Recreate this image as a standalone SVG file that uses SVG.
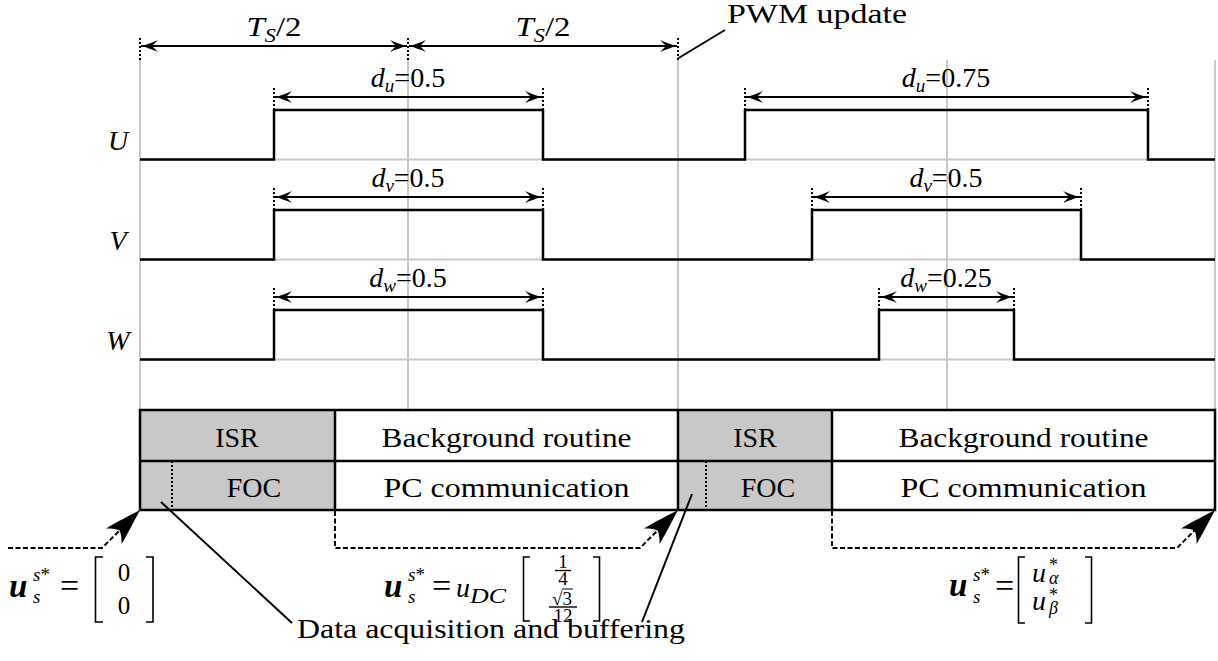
<svg xmlns="http://www.w3.org/2000/svg" width="1218" height="661" viewBox="0 0 1218 661" font-family="Liberation Serif, Times New Roman, DejaVu Serif, serif">
<defs>
<style>
text { font-family: "Liberation Serif", "Times New Roman", "DejaVu Serif", serif; fill: #000; }
.t { font-size: 28px; }
.it { font-style: italic; }
.sub { font-size: 19px; font-style: italic; }
.grid { stroke: #c8c8c8; stroke-width: 2; fill: none; }
.wave { stroke: #000; stroke-width: 2.5; fill: none; }
.dim { stroke: #000; stroke-width: 2; fill: none; marker-start: url(#ah); marker-end: url(#ah); }
.tick { stroke: #000; stroke-width: 2; stroke-dasharray: 2 2; fill: none; }
.frame { stroke: #000; stroke-width: 2.5; fill: none; }
.gray { fill: #c8c8c8; stroke: none; }
.dash { stroke: #000; stroke-width: 2; stroke-dasharray: 5 2.5; fill: none; }
.lead { stroke: #000; stroke-width: 2; fill: none; }
.brk { stroke: #000; stroke-width: 1.6; fill: none; }
.bu { font-size: 33px; font-weight: bold; font-style: italic; }
.eq { font-size: 34px; }
</style>
<marker id="ah" viewBox="-18 -7 20 14" refX="0" refY="0" markerWidth="20" markerHeight="14" markerUnits="userSpaceOnUse" orient="auto-start-reverse">
<path d="M0,0 C-5,-1 -12,-4 -17,-6 C-14,-3 -12,-1 -11,0 C-12,1 -14,3 -17,6 C-12,4 -5,1 0,0 Z" fill="#000"/>
</marker>
<path id="big" d="M0,0 C-10,-3 -25,-8 -37,-11 C-32,-6 -30,-3 -29,0 C-30,3 -32,6 -37,11 C-25,8 -10,3 0,0 Z" fill="#000"/>
</defs>
<rect width="1218" height="661" fill="#fff"/>

<g id="grid">
<path class="grid" d="M140,60 V410 M408,60 V410 M678,60 V410 M947,60 V410 M1215,60 V410"/>
<path class="grid" d="M140,159.5 H1215 M140,259.5 H1215 M140,359.5 H1215"/>
</g>

<g id="period-dims">
<path class="tick" d="M140,38 V60 M408,38 V60 M678,38 V60"/>
<line class="dim" x1="141" y1="46" x2="407" y2="46"/>
<line class="dim" x1="409" y1="46" x2="677" y2="46"/>
<text class="t" x="274" y="36" text-anchor="middle" textLength="55" lengthAdjust="spacingAndGlyphs"><tspan class="it">T</tspan><tspan class="sub" dy="6">S</tspan><tspan dy="-6">/2</tspan></text>
<text class="t" x="543" y="36" text-anchor="middle" textLength="55" lengthAdjust="spacingAndGlyphs"><tspan class="it">T</tspan><tspan class="sub" dy="6">S</tspan><tspan dy="-6">/2</tspan></text>
</g>

<g id="pwm-update">
<line class="lead" x1="677" y1="59" x2="725" y2="30"/>
<text class="t" x="727" y="23" textLength="180" lengthAdjust="spacingAndGlyphs">PWM update</text>
</g>

<g id="phase-U">
<text class="t it" x="118" y="150" text-anchor="middle">U</text>
<path class="wave" d="M140,159.5 H274 V110 H543 V159.5 H745 V110 H1148 V159.5 H1215"/>
<path class="tick" d="M274,88 V110 M543,88 V110 M745,88 V110 M1148,88 V110"/>
<line class="dim" x1="275" y1="97" x2="542" y2="97"/>
<line class="dim" x1="746" y1="97" x2="1147" y2="97"/>
<text class="t" x="408" y="87" text-anchor="middle"><tspan class="it">d</tspan><tspan class="sub" dy="5">u</tspan><tspan dy="-5">=0.5</tspan></text>
<text class="t" x="946" y="87" text-anchor="middle"><tspan class="it">d</tspan><tspan class="sub" dy="5">u</tspan><tspan dy="-5">=0.75</tspan></text>
</g>

<g id="phase-V">
<text class="t it" x="118" y="250" text-anchor="middle">V</text>
<path class="wave" d="M140,259.5 H274 V210 H543 V259.5 H812 V210 H1081 V259.5 H1215"/>
<path class="tick" d="M274,188 V210 M543,188 V210 M812,188 V210 M1081,188 V210"/>
<line class="dim" x1="275" y1="197" x2="542" y2="197"/>
<line class="dim" x1="813" y1="197" x2="1080" y2="197"/>
<text class="t" x="408" y="187" text-anchor="middle"><tspan class="it">d</tspan><tspan class="sub" dy="5">v</tspan><tspan dy="-5">=0.5</tspan></text>
<text class="t" x="946" y="187" text-anchor="middle"><tspan class="it">d</tspan><tspan class="sub" dy="5">v</tspan><tspan dy="-5">=0.5</tspan></text>
</g>

<g id="phase-W">
<text class="t it" x="118" y="350" text-anchor="middle">W</text>
<path class="wave" d="M140,359.5 H274 V310 H543 V359.5 H879 V310 H1014 V359.5 H1215"/>
<path class="tick" d="M274,288 V310 M543,288 V310 M879,288 V310 M1014,288 V310"/>
<line class="dim" x1="275" y1="297" x2="542" y2="297"/>
<line class="dim" x1="880" y1="297" x2="1013" y2="297"/>
<text class="t" x="408" y="287" text-anchor="middle"><tspan class="it">d</tspan><tspan class="sub" dy="5">w</tspan><tspan dy="-5">=0.5</tspan></text>
<text class="t" x="946" y="287" text-anchor="middle"><tspan class="it">d</tspan><tspan class="sub" dy="5">w</tspan><tspan dy="-5">=0.25</tspan></text>
</g>

<g id="isr-1">
<rect class="gray" x="140" y="410" width="195" height="100"/>
<text class="t" x="237" y="447" text-anchor="middle">ISR</text>
</g>
<g id="foc-1">
<path class="tick" d="M172,461 V510"/>
<text class="t" x="254" y="497" text-anchor="middle">FOC</text>
</g>
<g id="background-1">
<text class="t" x="506.5" y="447" text-anchor="middle" textLength="250" lengthAdjust="spacingAndGlyphs">Background routine</text>
</g>
<g id="pc-1">
<text class="t" x="506.5" y="497" text-anchor="middle" textLength="246" lengthAdjust="spacingAndGlyphs">PC communication</text>
</g>
<g id="isr-2">
<rect class="gray" x="678" y="410" width="154" height="100"/>
<text class="t" x="755" y="447" text-anchor="middle">ISR</text>
</g>
<g id="foc-2">
<path class="tick" d="M706,461 V510"/>
<text class="t" x="768" y="497" text-anchor="middle">FOC</text>
</g>
<g id="background-2">
<text class="t" x="1023.5" y="447" text-anchor="middle" textLength="250" lengthAdjust="spacingAndGlyphs">Background routine</text>
</g>
<g id="pc-2">
<text class="t" x="1023.5" y="497" text-anchor="middle" textLength="246" lengthAdjust="spacingAndGlyphs">PC communication</text>
</g>
<g id="frame">
<rect class="frame" x="140" y="410" width="1075" height="100"/>
<path class="frame" d="M140,461 H1215 M335,410 V510 M678,410 V510 M832,410 V510"/>
</g>

<g id="connectors">
<path class="dash" d="M8,548 H102 L121,529"/>
<use href="#big" transform="translate(140,510) rotate(-45)"/>
<path class="dash" d="M335,511 V548 H640 L659,529"/>
<use href="#big" transform="translate(678,510) rotate(-45)"/>
<path class="dash" d="M832,511 V548 H1177 L1196,529"/>
<use href="#big" transform="translate(1215,510) rotate(-45)"/>
<line class="lead" x1="161" y1="502" x2="292" y2="623"/>
<line class="lead" x1="692" y1="494" x2="642" y2="622"/>
</g>

<g id="data-acq">
<text class="t" x="297" y="638" textLength="388" lengthAdjust="spacingAndGlyphs">Data acquisition and buffering</text>
</g>

<g id="vec-1">
<text x="9" y="597" class="bu">u</text>
<text font-size="19"><tspan x="33" y="581" class="it">s</tspan><tspan>*</tspan><tspan x="33" y="603" class="it">s</tspan></text>
<text x="60" y="597" class="eq">=</text>
<path class="brk" d="M103,557 H95.5 V622 H103 M146,557 H153 V622 H146"/>
<text font-size="25" text-anchor="middle"><tspan x="124" y="581">0</tspan><tspan x="124" y="614">0</tspan></text>
</g>

<g id="vec-2">
<text x="384" y="597" class="bu">u</text>
<text font-size="19"><tspan x="408" y="581" class="it">s</tspan><tspan>*</tspan><tspan x="408" y="603" class="it">s</tspan></text>
<text x="432" y="597" class="eq">=</text>
<text font-style="italic"><tspan x="456" y="597" font-size="28">u</tspan><tspan x="470" y="603" font-size="20" textLength="36" lengthAdjust="spacingAndGlyphs">DC</tspan></text>
<path class="brk" d="M530,557 H523.5 V621 H530 M593,557 H599.5 V621 H593"/>
<text font-size="19" text-anchor="middle"><tspan x="563" y="568">1</tspan><tspan x="563" y="585">4</tspan><tspan x="562" y="605">√3</tspan><tspan x="563" y="622">12</tspan></text>
<line x1="555" y1="570.5" x2="571" y2="570.5" stroke="#000" stroke-width="1.4"/>
<line x1="562" y1="589" x2="573" y2="589" stroke="#000" stroke-width="1"/>
<line x1="549" y1="607" x2="577" y2="607" stroke="#000" stroke-width="1.4"/>
</g>

<g id="vec-3">
<text x="949" y="596" class="bu">u</text>
<text font-size="19"><tspan x="973" y="581" class="it">s</tspan><tspan>*</tspan><tspan x="973" y="603" class="it">s</tspan></text>
<text x="995" y="597" class="eq">=</text>
<path class="brk" d="M1025,557 H1018.5 V623 H1025 M1085,557 H1091.5 V623 H1085"/>
<text font-style="italic"><tspan x="1032" y="582" font-size="28">u</tspan><tspan x="1049" y="571" font-size="18" font-style="normal">*</tspan><tspan x="1049" y="584" font-size="18">α</tspan><tspan x="1032" y="610" font-size="28">u</tspan><tspan x="1049" y="601" font-size="18" font-style="normal">*</tspan><tspan x="1049" y="614" font-size="18">β</tspan></text>
</g>
</svg>
